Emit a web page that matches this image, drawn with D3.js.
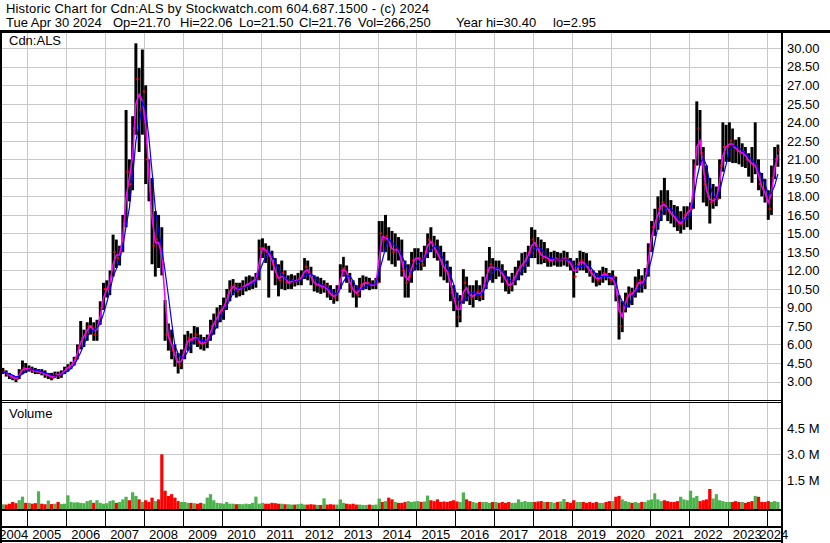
<!DOCTYPE html>
<html><head><meta charset="utf-8">
<script src="https://cdn.jsdelivr.net/npm/d3@7"></script>
<style>html,body{margin:0;padding:0;background:#fff;}svg{display:block;font-family:"Liberation Sans",Arial,sans-serif;}</style>
</head><body><svg id="c" width="830" height="543"></svg>
<script>
// ---- data (monthly, May 2004 .. Apr 2024) ----
const firstMonth = new Date(2004, 4, 1);
const lastMonthEnd = new Date(2024, 4, 1);
const high = [
 4.1,3.9,3.7,3.5,3.4,4.0,4.7,4.5,
 4.3,4.2,4.1,4.0,4.0,3.9,3.7,3.7,3.8,3.8,3.9,4.2,
 4.4,4.6,5.0,6.0,7.9,7.2,7.8,8.2,7.8,8.0,9.5,11.0,
 11.2,12.0,14.9,14.5,14.0,16.5,25.0,21.0,24.5,30.4,28.4,29.9,
 27.0,21.0,19.5,16.8,16.5,15.5,9.6,7.7,7.2,6.0,5.3,5.6,
 6.8,7.1,6.9,7.5,7.4,6.8,6.6,6.8,8.0,8.5,9.0,9.2,
 9.8,10.5,11.2,11.3,11.0,11.0,11.2,11.5,11.6,11.5,11.8,14.5,
 14.6,14.2,14.0,13.6,13.0,12.5,12.8,12.0,11.6,11.7,11.6,11.8,
 12.0,13.0,12.8,12.3,11.6,11.5,11.4,11.2,11.0,10.8,10.5,10.8,
 12.5,13.1,12.4,11.8,11.2,10.8,11.4,11.6,11.5,11.4,11.2,11.4,
 16.0,16.0,16.5,15.5,15.2,15.0,14.7,14.5,12.8,12.5,13.5,13.8,
 13.8,13.5,14.0,15.0,15.5,14.8,14.5,14.0,13.5,12.8,12.3,10.8,
 10.2,10.0,12.1,11.5,10.8,10.8,11.2,10.8,11.5,12.8,13.9,13.0,
 12.8,12.8,12.5,12.0,11.5,11.8,12.3,12.8,13.4,13.5,14.0,15.5,
 15.3,14.7,14.5,14.3,13.8,13.5,13.6,13.5,13.4,13.6,13.5,13.0,
 12.8,13.0,13.6,13.5,13.4,12.8,12.0,11.8,12.0,12.3,12.2,11.8,
 12.0,11.5,10.0,9.5,10.2,10.7,10.6,11.5,12.1,11.6,12.2,14.2,
 16.0,17.0,18.0,18.5,19.5,18.5,17.7,17.3,17.2,16.8,17.2,17.2,
 17.5,21.0,25.7,25.0,22.0,20.5,19.5,19.0,18.8,21.0,24.0,23.8,
 24.0,23.5,22.6,22.8,22.3,22.0,21.5,22.0,24.0,21.0,19.9,19.4,
 18.5,20.5,22.0,22.2
];
const low = [
 3.6,3.4,3.2,3.1,2.95,3.2,3.6,3.7,
 3.8,3.7,3.6,3.6,3.5,3.3,3.2,3.1,3.3,3.2,3.3,3.6,
 3.8,4.0,4.3,4.8,5.6,5.8,6.3,6.8,6.3,6.3,7.6,8.8,
 9.8,10.0,11.5,12.2,12.4,13.5,15.5,17.6,18.5,23.0,21.6,23.0,
 19.0,17.6,12.5,11.5,12.2,11.6,6.3,5.5,4.8,4.2,3.65,4.0,
 4.8,5.5,5.3,6.0,5.8,5.6,5.5,5.7,6.3,6.8,7.3,7.8,
 8.0,8.8,9.5,10.0,9.8,9.9,10.0,10.3,10.4,10.5,10.6,11.2,
 13.0,12.6,9.8,12.0,10.8,9.9,10.5,10.4,10.5,10.5,10.7,10.8,
 10.8,11.3,11.2,10.8,10.3,10.2,10.1,10.2,9.8,9.6,9.3,9.5,
 10.5,11.5,11.0,10.2,9.8,9.0,9.8,10.4,10.5,10.4,10.5,10.5,
 11.0,13.5,13.5,12.8,12.5,12.3,12.8,11.5,9.8,9.8,11.0,12.0,
 12.0,12.0,12.3,13.0,13.5,13.0,12.8,11.5,11.2,11.0,9.5,8.7,
 7.4,7.8,9.3,9.5,9.2,9.0,9.6,9.5,9.6,10.5,11.2,11.0,
 11.3,11.5,11.0,10.3,10.1,10.3,10.8,11.2,11.6,11.8,12.3,13.0,
 13.0,12.5,12.5,12.6,12.3,12.3,12.4,12.3,12.3,12.4,12.3,12.0,
 9.8,11.8,12.0,12.0,11.8,11.5,11.0,10.7,10.8,11.0,11.2,10.8,
 10.8,9.5,6.4,7.0,8.6,9.0,9.2,9.8,10.2,10.2,10.5,11.5,
 13.5,14.8,15.3,16.0,16.5,16.0,15.8,15.5,15.2,15.0,15.3,15.5,
 15.3,17.0,20.5,20.5,17.5,17.2,15.8,17.0,17.2,17.8,20.0,20.8,
 20.8,20.7,20.7,20.6,20.4,20.3,19.6,19.1,19.8,18.5,18.0,17.5,
 16.1,16.5,19.4,20.4
];
const close = [
 3.8,3.6,3.4,3.3,3.2,3.8,4.1,4.0,
 4.0,3.9,3.8,3.8,3.7,3.5,3.5,3.3,3.6,3.5,3.7,4.0,
 4.2,4.4,4.8,5.8,6.5,6.8,7.5,7.5,6.8,7.6,9.0,10.5,
 10.5,11.5,13.5,13.0,13.5,15.8,20.0,19.0,23.5,27.5,25.0,26.5,
 21.0,18.5,14.0,14.5,14.0,12.5,6.8,6.5,5.5,4.8,4.3,5.0,
 6.0,6.5,6.3,6.8,6.2,6.0,6.2,6.5,7.5,7.8,8.5,8.8,
 9.2,10.0,10.6,10.8,10.3,10.6,10.7,10.9,11.0,11.2,11.3,13.8,
 13.8,13.5,13.2,12.5,11.5,11.2,11.8,11.0,11.0,11.2,11.1,11.3,
 11.5,12.3,11.8,11.2,10.8,10.9,10.6,10.8,10.2,10.0,9.8,10.3,
 12.0,12.2,11.5,10.6,10.3,10.0,10.8,11.0,11.0,10.8,10.8,11.0,
 15.0,14.5,14.8,14.0,13.5,13.8,13.5,12.0,11.0,11.5,12.8,13.0,
 13.0,12.5,13.5,14.5,14.2,13.6,13.2,12.5,12.0,11.8,10.2,9.5,
 8.2,9.5,11.0,10.2,9.8,10.0,10.3,9.9,10.8,12.0,12.5,12.0,
 12.2,12.0,11.5,11.0,10.6,11.2,11.8,12.3,12.5,13.0,13.5,14.5,
 14.0,13.5,13.0,13.2,12.8,12.8,13.0,12.8,12.9,13.0,12.7,12.5,
 11.5,12.5,12.8,12.5,12.2,11.8,11.5,11.2,11.5,11.8,11.6,11.2,
 11.5,10.0,7.5,9.0,9.8,10.2,10.0,10.8,11.2,10.8,11.8,13.8,
 15.5,16.0,17.0,17.5,17.2,16.8,16.5,16.2,15.8,15.8,16.5,16.8,
 17.0,20.5,23.5,21.5,19.0,18.0,17.5,17.8,17.8,20.5,22.0,22.0,
 22.5,22.0,21.8,21.5,21.6,21.0,20.8,20.5,20.5,19.0,18.6,18.0,
 17.0,19.5,21.0,21.76
];
// volume in thousands of shares (typical daily volume shown per month)
const volumeK = [
 120,100,150,250,180,350,560,200,
 200,150,180,865,150,120,330,130,150,250,130,150,
 635,250,220,230,200,180,300,350,200,350,200,150,
 180,300,350,200,250,400,550,350,810,600,400,250,
 350,250,500,300,400,3000,900,600,700,500,300,250,
 250,200,200,180,150,200,150,500,700,350,200,180,
 150,250,150,150,120,130,120,150,130,200,560,150,
 200,150,150,200,180,150,150,120,120,100,100,120,
 150,100,100,120,100,80,80,460,100,120,100,100,
 400,200,150,120,150,100,100,80,80,100,80,100,
 450,250,300,500,400,250,200,200,250,300,250,280,
 300,250,280,620,350,300,400,250,280,250,300,350,
 280,250,800,400,300,250,200,250,250,250,200,250,
 250,200,250,200,250,200,200,400,250,300,250,250,
 250,280,300,250,250,250,200,250,280,420,250,200,
 350,250,250,250,200,250,200,250,200,200,250,300,
 300,550,600,400,300,250,200,250,200,250,250,350,
 400,750,400,300,350,300,250,250,300,550,400,350,
 900,500,600,300,350,400,1000,450,700,350,300,250,
 250,250,300,250,250,200,250,300,600,550,250,250,
 300,250,300,250
];
const priceTicks = [3,4.5,6,7.5,9,10.5,12,13.5,15,16.5,18,19.5,21,22.5,24,25.5,27,28.5,30];
const volumeTicks = [1500000,3000000,4500000];
const yearLabels = ["2004","2005","2006","2007","2008","2009","2010","2011","2012","2013","2014","2015","2016","2017","2018","2019","2020","2021","2022","2023","2024"];
const headerLine1 = "Historic Chart for Cdn:ALS by Stockwatch.com 604.687.1500 - (c) 2024";
const headerFields = ["Tue Apr 30 2024","Op=21.70","Hi=22.06","Lo=21.50","Cl=21.76","Vol=266,250","Year hi=30.40","lo=2.95"];
const headerFieldX = [6,113,180,239,299,358,456,553];

// ---- build ----
const months = d3.timeMonth.range(firstMonth, lastMonthEnd);
const bars = months.map((m,i)=>({m, next:d3.timeMonth.offset(m,1), h:high[i], l:low[i], c:close[i],
  o: i===0 ? close[0] : close[i-1], v: volumeK[i]*1000}));
function sma(arr, n){ return arr.map((_,i)=>d3.mean(arr.slice(Math.max(0,i-n+1), i+1))); }
const maShort = sma(close, 2), maLong = sma(close, 4);

const svg = d3.select("#c");
const x = d3.scaleTime().domain([new Date(2004,0,1), new Date(2025,0,1)]).range([-11.62, 805.62]);
const y = d3.scaleLinear().domain([3,30]).range([381.5,48.3]);
const yv = d3.scaleLinear().domain([0,4500000]).range([506.3,428.3]);
const L=2, R=781;
const grid="#c8c8c8";
const font = 13;

svg.append("rect").attr("width",830).attr("height",543).attr("fill","#fff");
const defs = svg.append("defs");
defs.append("clipPath").attr("id","cp").append("rect").attr("x",L).attr("y",33).attr("width",R-L).attr("height",367);
defs.append("clipPath").attr("id","cv").append("rect").attr("x",L).attr("y",403).attr("width",R-L).attr("height",106);

// gridlines
const years = yearLabels.map(s=>new Date(+s,0,1));
const yearBounds = years.slice(1);
svg.append("g").selectAll("line").data(yearBounds).join("line")
 .attr("x1",d=>Math.round(x(d))+0.5).attr("x2",d=>Math.round(x(d))+0.5)
 .attr("y1",33).attr("y2",509).attr("stroke",grid).attr("stroke-width",1);
svg.append("g").selectAll("line").data(priceTicks).join("line")
 .attr("x1",L).attr("x2",R).attr("y1",d=>Math.round(y(d))+0.5).attr("y2",d=>Math.round(y(d))+0.5)
 .attr("stroke",grid).attr("stroke-width",1);
svg.append("g").selectAll("line").data(volumeTicks).join("line")
 .attr("x1",L).attr("x2",R).attr("y1",d=>Math.round(yv(d))+0.5).attr("y2",d=>Math.round(yv(d))+0.5)
 .attr("stroke",grid).attr("stroke-width",1);

// price bars (monthly range bars)
const gp = svg.append("g").attr("clip-path","url(#cp)");
const bw = d=>x(d.next)-x(d.m);
gp.selectAll("rect.b").data(bars).join("rect").attr("class","b")
 .attr("x",d=>x(d.m)+bw(d)*0.05).attr("width",d=>bw(d)*0.9)
 .attr("y",d=>y(d.h)).attr("height",d=>Math.max(1,y(d.l)-y(d.h))).attr("fill","#000");
gp.selectAll("rect.c").data(bars).join("rect").attr("class","c")
 .attr("x",d=>x(d.next)-1.3).attr("width",1.3)
 .attr("y",d=>y(d.c)-1).attr("height",2).attr("fill","#ff0000");
gp.selectAll("rect.o").data(bars).join("rect").attr("class","o")
 .attr("x",d=>x(d.m)).attr("width",1.1)
 .attr("y",d=>y(d.o)-1).attr("height",2).attr("fill","#ff0000");
const mid = d=>new Date((+d.m + +d.next)/2);
const line = arr => d3.line().x((d,i)=>x(mid(bars[i]))).y((d)=>y(d))(arr);
gp.append("path").attr("d",line(maShort)).attr("fill","none").attr("stroke","#ff00ff").attr("stroke-width",1.6);
gp.append("path").attr("d",line(maLong)).attr("fill","none").attr("stroke","#0000ff").attr("stroke-width",1.2);

// volume bars
const gv = svg.append("g").attr("clip-path","url(#cv)");
gv.selectAll("rect").data(bars).join("rect")
 .attr("x",d=>x(d.m)).attr("width",d=>bw(d))
 .attr("y",d=>yv(d.v)).attr("height",d=>509-yv(d.v))
 .attr("fill",d=>d.c>=d.o ? "#4db34d" : "#ff0000");

// frame
const blk = (x0,y0,w,h)=>svg.append("rect").attr("x",x0).attr("y",y0).attr("width",w).attr("height",h).attr("fill","#000");
blk(0,30,830,3);
blk(0,30,2,513);
blk(0,400,R,1); blk(0,402,R,1);
blk(0,509,R,2);
blk(0,526,R,2);
blk(0,540,R+2,2);
// year ticks in x axis band
svg.append("g").selectAll("line").data(yearBounds).join("line")
 .attr("x1",d=>Math.round(x(d))+0.5).attr("x2",d=>Math.round(x(d))+0.5)
 .attr("y1",511).attr("y2",526).attr("stroke","#000").attr("stroke-width",1);

// year labels centred in each year box
svg.append("g").selectAll("text").data(years).join("text")
 .attr("x",(d,i)=>{const a=Math.max(0,x(d)), b=Math.min(R,x(d3.timeYear.offset(d,1))); return (a+b)/2;})
 .attr("y",539).attr("text-anchor","middle").attr("font-size",font).attr("fill","#000")
 .text((d,i)=>yearLabels[i]);
blk(0,526,2,17);
blk(R,30,2,513);

// right axes
const ax = d3.axisRight(y).tickValues(priceTicks).tickSize(0).tickPadding(0).tickFormat(d3.format(".2f"));
const gax = svg.append("g").attr("transform",`translate(${R+6},0)`).call(ax);
gax.select(".domain").remove();
gax.selectAll("text").attr("font-size",font).attr("font-family","Liberation Sans, Arial, sans-serif").attr("fill","#000");
const axv = d3.axisRight(yv).tickValues(volumeTicks).tickSize(0).tickPadding(0).tickFormat(d=>(d/1e6).toFixed(1)+" M");
const gav = svg.append("g").attr("transform",`translate(${R+6},0)`).call(axv);
gav.select(".domain").remove();
gav.selectAll("text").attr("font-size",font).attr("font-family","Liberation Sans, Arial, sans-serif").attr("fill","#000");

// header + panel labels
svg.append("text").attr("x",6).attr("y",13).attr("font-size",font).attr("textLength",423).attr("lengthAdjust","spacing").text(headerLine1);
svg.append("g").selectAll("text").data(headerFields).join("text")
 .attr("x",(d,i)=>headerFieldX[i]).attr("y",27).attr("font-size",font).text(d=>d);
svg.append("text").attr("x",9).attr("y",45).attr("font-size",font).text("Cdn:ALS");
svg.append("text").attr("x",9).attr("y",418).attr("font-size",font).text("Volume");
</script></body></html>
